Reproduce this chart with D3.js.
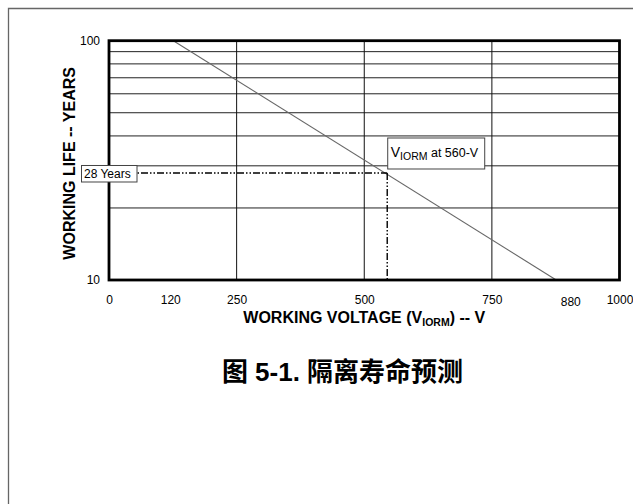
<!DOCTYPE html>
<html>
<head>
<meta charset="utf-8">
<script src="https://cdn.jsdelivr.net/npm/d3@7"></script>
<style>
  body { margin: 0; background: #fff; }
  text { font-family: "Liberation Sans", Arial, "Noto Sans CJK SC", sans-serif; }
</style>
</head>
<body>
<div id="chart"></div>
<script>
// values
var voltTicks = [0, 120, 250, 500, 750, 880, 1000];
var voltGrid = [250, 500, 750];
var lifeTicks = [10, 100];
var lifeGrid = [20, 30, 40, 50, 60, 70, 80, 90];
var curveVolt = [126, 876];
var curveLife = [100, 10];
var markVolt = 545;
var markLife = 28;
var markLifeLabel = "28 Years";
var markVoltLabel = " at 560-V";

function init() {
    var w = 633;
    var h = 504;
    var left = 109, right = 619.5, top = 40.7, bottom = 280;

    var curve = curveVolt.map(function(v, i) { return {volt: v, life: curveLife[i]}; });

    var xScale = d3.scaleLinear()
                .domain([0, 1000])
                .range([left, right]);

    var yScale = d3.scaleLog()
                .domain([10, 100])
                .range([bottom, top]);

    var svg = d3.select("#chart")
            .append("svg")
            .attr("width", w)
            .attr("height", h);

    // page frame
    svg.append("path")
            .attr("d", "M8.5," + h + "V8.5H" + w)
            .attr("fill", "none")
            .attr("stroke", "#666")
            .attr("stroke-width", 1.3);

    // grid
    svg.selectAll(".hgrid")
            .data(lifeGrid)
            .enter().append("line")
            .attr("x1", left).attr("x2", right)
            .attr("y1", function(d) { return yScale(d); })
            .attr("y2", function(d) { return yScale(d); })
            .attr("stroke", "#222")
            .attr("stroke-width", 1);

    svg.selectAll(".vgrid")
            .data(voltGrid)
            .enter().append("line")
            .attr("y1", top).attr("y2", bottom)
            .attr("x1", function(d) { return xScale(d); })
            .attr("x2", function(d) { return xScale(d); })
            .attr("stroke", "#111")
            .attr("stroke-width", 1);

    // life curve
    var line = d3.line()
            .x(function(d) { return xScale(d.volt); })
            .y(function(d) { return yScale(d.life); });

    svg.append("path")
            .datum(curve)
            .attr("d", line)
            .attr("fill", "none")
            .attr("stroke", "#666")
            .attr("stroke-width", 1.1);

    // marker dash lines
    var mx = xScale(markVolt), my = yScale(markLife);
    var dash = "7,2,1.5,2,1.5,2";
    svg.append("line")
            .attr("x1", left).attr("x2", mx)
            .attr("y1", my).attr("y2", my)
            .attr("stroke", "#000").attr("stroke-width", 1.4)
            .attr("stroke-dasharray", dash);
    svg.append("line")
            .attr("x1", mx).attr("x2", mx)
            .attr("y1", my).attr("y2", bottom)
            .attr("stroke", "#000").attr("stroke-width", 1.4)
            .attr("stroke-dasharray", dash);

    // plot border
    svg.append("rect")
            .attr("x", left).attr("y", top)
            .attr("width", right - left).attr("height", bottom - top)
            .attr("fill", "none")
            .attr("stroke", "#000")
            .attr("stroke-width", 2.8);

    // axes
    var xAxis = d3.axisBottom(xScale)
            .tickValues(voltTicks)
            .tickSize(0)
            .tickPadding(15)
            .tickFormat(d3.format("d"));

    var yAxis = d3.axisLeft(yScale)
            .tickValues(lifeTicks)
            .tickSize(0)
            .tickPadding(9)
            .tickFormat(d3.format("d"));

    var gx = svg.append("g")
            .attr("transform", "translate(0," + bottom + ")")
            .call(xAxis);
    var gy = svg.append("g")
            .attr("transform", "translate(" + left + ",0)")
            .call(yAxis);
    [gx, gy].forEach(function(g) {
        g.select(".domain").remove();
        g.selectAll("text")
            .attr("fill", "#000")
            .style("font-size", "12px")
            .style("font-family", "'Liberation Sans', Arial, sans-serif");
    });
    // the 880 label sits a little right of its tick in the original
    gx.selectAll("text")
            .filter(function(d) { return d === 880; })
            .attr("dx", 12).attr("y", 17);

    // "28 Years" box
    var b1 = svg.append("g");
    b1.append("rect")
            .attr("x", left - 27.5).attr("y", my - 7.5)
            .attr("width", 55.5).attr("height", 16.5)
            .attr("fill", "#fff")
            .attr("stroke", "#444").attr("stroke-width", 1);
    b1.append("text")
            .attr("x", left - 25).attr("y", my + 4.8)
            .style("font-size", "12px")
            .text(markLifeLabel);

    // V_IORM box
    var b2 = svg.append("g");
    b2.append("rect")
            .attr("x", mx + 0.5).attr("y", my - 35)
            .attr("width", 97).attr("height", 31)
            .attr("fill", "#fff")
            .attr("stroke", "#444").attr("stroke-width", 1);
    var t2 = b2.append("text")
            .attr("x", mx + 3.5).attr("y", my - 15.5)
            .style("font-size", "14px");
    t2.append("tspan").text("V");
    t2.append("tspan").attr("dy", 2.8).style("font-size", "10.5px").text("IORM");
    t2.append("tspan").attr("dy", -2.8).style("font-size", "12.5px").text(markVoltLabel);

    // axis titles
    var xt = svg.append("text")
            .attr("x", (left + right) / 2).attr("y", 323)
            .attr("text-anchor", "middle")
            .style("font-size", "16px")
            .style("font-weight", "bold");
    xt.append("tspan").text("WORKING VOLTAGE (V");
    xt.append("tspan").attr("dy", 3).style("font-size", "10.5px").text("IORM");
    xt.append("tspan").attr("dy", -3).text(") -- V");

    svg.append("text")
            .attr("transform", "translate(75," + ((top + bottom) / 2 + 3) + ") rotate(-90)")
            .attr("text-anchor", "middle")
            .style("font-size", "16px")
            .style("font-weight", "bold")
            .text("WORKING LIFE -- YEARS");

    // figure caption
    svg.append("text")
            .attr("x", 342.5).attr("y", 381)
            .attr("text-anchor", "middle")
            .style("font-size", "26px")
            .style("font-weight", "bold")
            .text("图 5-1. 隔离寿命预测");
}

window.onload = init
</script>
</body>
</html>
